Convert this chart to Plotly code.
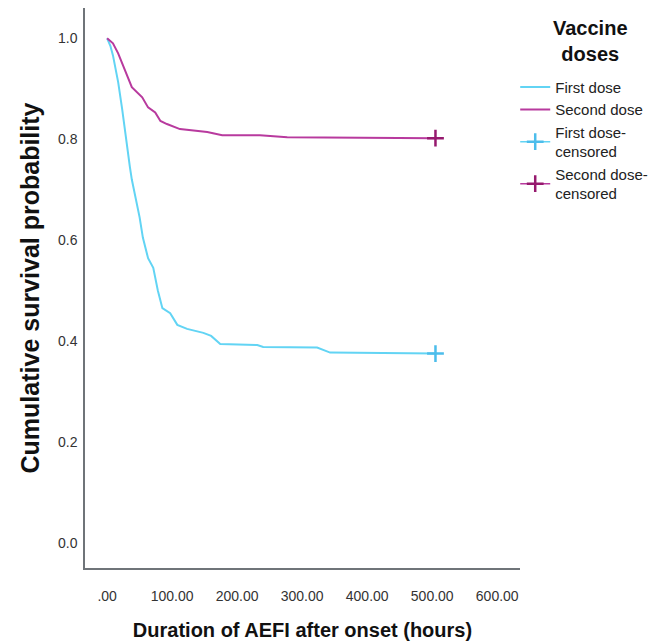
import plotly.graph_objects as go

# Kaplan-Meier estimates
first_time = [0, 5, 9, 13, 17, 23, 28, 31, 35, 38, 46, 50, 55, 63, 71, 78, 85, 97,
              108, 123, 148, 160, 174, 231, 240, 323, 343, 431, 505]
first_surv = [1.0, 0.985, 0.966, 0.94, 0.913, 0.861, 0.81, 0.788, 0.745, 0.72, 0.669,
              0.645, 0.605, 0.564, 0.545, 0.50, 0.465, 0.455, 0.432, 0.424, 0.416,
              0.41, 0.394, 0.392, 0.388, 0.387, 0.377, 0.376, 0.375]

second_time = [0, 9, 17, 25, 32, 38, 54, 63, 74, 82, 92, 112, 154, 177, 235, 277, 505]
second_surv = [1.0, 0.99, 0.97, 0.943, 0.92, 0.903, 0.883, 0.863, 0.853, 0.836, 0.83,
               0.82, 0.814, 0.808, 0.808, 0.804, 0.802]

# censored observations (last follow-up)
first_cens_time, first_cens_surv = [505], [0.375]
second_cens_time, second_cens_surv = [505], [0.802]

x_ticks = [0, 100, 200, 300, 400, 500, 600]
x_tick_text = ['.00', '100.00', '200.00', '300.00', '400.00', '500.00', '600.00']
y_ticks = [0.0, 0.2, 0.4, 0.6, 0.8, 1.0]

cyan = '#62D4F4'
magenta = '#B83A9E'

fig = go.Figure()
fig.add_trace(go.Scatter(x=first_time, y=first_surv, mode='lines', name='First dose',
                         line=dict(color=cyan, width=2)))
fig.add_trace(go.Scatter(x=second_time, y=second_surv, mode='lines', name='Second dose',
                         line=dict(color=magenta, width=2)))
fig.add_trace(go.Scatter(x=first_cens_time, y=first_cens_surv, mode='lines+markers',
                         name='First dose-<br>censored',
                         line=dict(color=cyan, width=1.5),
                         marker=dict(symbol='cross-thin', size=12,
                                     line=dict(color='#4CBDEB', width=2.5))))
fig.add_trace(go.Scatter(x=second_cens_time, y=second_cens_surv, mode='lines+markers',
                         name='Second dose-<br>censored',
                         line=dict(color=magenta, width=1.5),
                         marker=dict(symbol='cross-thin', size=12,
                                     line=dict(color='#96196E', width=2.5))))

# legend heading, placed by hand so the items can sit lower
fig.add_annotation(text='<b>Vaccine<br>doses</b>', xref='paper', yref='paper',
                   x=1.161, y=0.941, xanchor='center', yanchor='middle',
                   showarrow=False, font=dict(size=20, color='#111'))

# the page body adds an 8px margin, so the figure is sized to fill the rest
fig.update_layout(
    width=654, height=633,
    margin=dict(l=77, r=142, t=0, b=73, autoexpand=False),
    paper_bgcolor='white', plot_bgcolor='white',
    font=dict(family='Liberation Sans, Arial, sans-serif', color='#222'),
    showlegend=True,
    legend=dict(
        x=0.989, xanchor='left', y=0.888, yanchor='top',
        font=dict(size=15, color='#222'),
        tracegroupgap=0, itemwidth=30,
    ),
    xaxis=dict(
        range=[-34, 635], tickvals=x_ticks, ticktext=x_tick_text,
        showgrid=False, zeroline=False, showline=True, linecolor='#6f7479',
        linewidth=1.5, ticks='', ticklabelstandoff=14, automargin=False,
        tickfont=dict(size=14, color='#333'),
        title=dict(text='<b>Duration of AEFI after onset (hours)</b>',
                   font=dict(size=20, color='#111'), standoff=21),
    ),
    yaxis=dict(
        range=[-0.05, 1.06], tickvals=y_ticks, tickformat='.1f',
        showgrid=False, zeroline=False, showline=True, linecolor='#6f7479',
        linewidth=1.5, ticks='', ticklabelstandoff=3, automargin=False,
        tickfont=dict(size=14, color='#333'),
        title=dict(text='<b>Cumulative survival probability</b>',
                   font=dict(size=25, color='#111'), standoff=11),
    ),
)

fig.write_html("out.html")
